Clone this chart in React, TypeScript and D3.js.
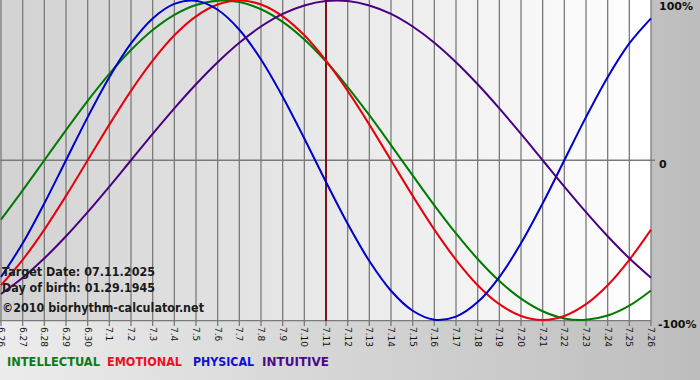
import React from "react";
import * as d3 from "d3";

const days = ["6.26","6.27","6.28","6.29","6.30","7.1","7.2","7.3","7.4","7.5","7.6","7.7","7.8","7.9","7.10","7.11","7.12","7.13","7.14","7.15","7.16","7.17","7.18","7.19","7.20","7.21","7.22","7.23","7.24","7.25","7.26"];

const intellectual = [-0.372,-0.189,0,0.189,0.372,0.541,0.690,0.815,0.910,0.972,0.999,0.990,0.945,0.866,0.756,0.618,0.458,0.282,0.095,-0.095,-0.282,-0.458,-0.618,-0.756,-0.866,-0.945,-0.990,-0.999,-0.972,-0.910,-0.815];
const emotional = [-0.782,-0.623,-0.434,-0.223,0,0.223,0.434,0.623,0.782,0.901,0.975,1.0,0.975,0.901,0.782,0.623,0.434,0.223,0,-0.223,-0.434,-0.623,-0.782,-0.901,-0.975,-1.0,-0.975,-0.901,-0.782,-0.623,-0.434];
const physical = [-0.731,-0.520,-0.270,0,0.270,0.520,0.731,0.888,0.979,0.998,0.942,0.817,0.631,0.398,0.136,-0.136,-0.398,-0.631,-0.817,-0.942,-0.998,-0.979,-0.888,-0.731,-0.520,-0.270,0,0.270,0.520,0.731,0.888];
const intuitive = [-0.837,-0.736,-0.614,-0.476,-0.325,-0.165,0,0.165,0.325,0.476,0.614,0.736,0.837,0.916,0.969,0.997,0.997,0.969,0.916,0.837,0.736,0.614,0.476,0.325,0.165,0,-0.165,-0.325,-0.476,-0.614,-0.736];

const seriesNames = ["INTELLECTUAL","EMOTIONAL","PHYSICAL","INTUITIVE"];
const seriesColors = ["#007a00","#e8000c","#0000cc","#4b0082"];
const legendColors = ["#0a7a1a","#ee0f1f","#1010d0","#4b0a8a"];
const seriesData = [intellectual, emotional, physical, intuitive];

const yTicks = [1, 0, -1];
const yTickLabels = ["100%", "0", "-100%"];
const targetDay = "7.11";
const infoLines = ["Target Date: 07.11.2025", "Day of birth: 01.29.1945", "©2010 biorhythm-calculator.net"];

export default function App() {
  const W = 700, H = 380;
  const x = d3.scalePoint<string>().domain(days).range([1, 651]);
  const y = d3.scaleLinear().domain([-1, 1]).range([320, 0.5]);
  const line = d3.line<number>()
    .x((_, i) => x(days[i]) as number)
    .y((d) => y(d))
    .curve(d3.curveCatmullRom.alpha(0.5));

  const font = "'DejaVu Sans', Verdana, sans-serif";
  const legendX = [7, 107, 193, 262];
  const legendW = [93, 75, 61, 67];
  const infoY = [276, 292, 312];
  const infoW = [153, 153, 202];

  return (
    <svg width={W} height={H} style={{ position: "absolute", left: 0, top: 0 }} fontFamily={font}>
      <defs>
        <linearGradient id="bg" x1="0" x2="1" y1="0" y2="0">
          <stop offset="0" stopColor="#ececec" />
          <stop offset="1" stopColor="#bdbdbd" />
        </linearGradient>
        <linearGradient id="plotbg" x1="0" x2="1" y1="0" y2="0">
          <stop offset="0" stopColor="#d2d2d2" />
          <stop offset="1" stopColor="#ffffff" />
        </linearGradient>
        <clipPath id="clip">
          <rect x={0} y={0} width={652} height={322} />
        </clipPath>
      </defs>
      <rect x={0} y={0} width={W} height={H} fill="url(#bg)" />
      <rect x={0} y={0} width={651} height={321} fill="url(#plotbg)" />
      {days.map((d) => (
        <line key={d} x1={x(d)} x2={x(d)} y1={0} y2={326} stroke="#7a7a7a" strokeWidth={1.3} />
      ))}
      <line x1={0} x2={655} y1={y(0)} y2={y(0)} stroke="#7a7a7a" strokeWidth={1.3} />
      <line x1={0} x2={651} y1={320.7} y2={320.7} stroke="#7a7a7a" strokeWidth={1.3} />
      <line x1={x(targetDay)} x2={x(targetDay)} y1={0} y2={321} stroke="#7a1414" strokeWidth={2} />
      <g clipPath="url(#clip)">
        {seriesData.map((s, i) => (
          <path key={i} d={line(s) || ""} fill="none" stroke={seriesColors[i]} strokeWidth={2} />
        ))}
      </g>
      {days.map((d) => (
        <text key={"l" + d} transform={`translate(${(x(d) as number)},327) rotate(90)`} fontSize={9} fill="#111" dominantBaseline="central">{d}</text>
      ))}
      {yTicks.map((t, i) => (
        <text key={"y" + i} x={i === 2 ? 658 : 659} y={y(t) + (i === 0 ? 6.5 : 4.5)} fontSize={11} fontWeight="bold" fill="#111" dominantBaseline="middle">{yTickLabels[i]}</text>
      ))}
      {infoLines.map((t, i) => (
        <text key={"i" + i} x={2} y={infoY[i]} fontSize={11.5} fontWeight="bold" fill="#1a1a1a" textLength={infoW[i]} lengthAdjust="spacingAndGlyphs">{t}</text>
      ))}
      {seriesNames.map((n, i) => (
        <text key={n} x={legendX[i]} y={366} fontSize={12} fontWeight="bold" fill={legendColors[i]} textLength={legendW[i]} lengthAdjust="spacingAndGlyphs">{n}</text>
      ))}
    </svg>
  );
}
